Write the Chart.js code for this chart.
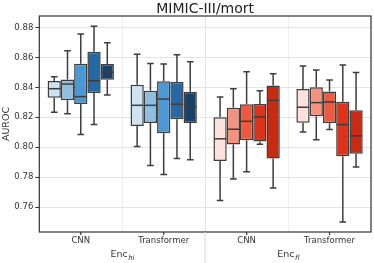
<!DOCTYPE html>
<html>
<head>
<meta charset="utf-8">
<script src="https://cdn.jsdelivr.net/npm/chart.js@4"></script>
<style>
  html, body { margin: 0; padding: 0; background: #fff; }
  #wrap { width: 374px; height: 263px; }
</style>
</head>
<body>
<div id="wrap"><canvas id="boxChart"></canvas></div>
<script>
// categories along x, and which encoder group each belongs to
const categories = ['CNN', 'Transformer', 'CNN', 'Transformer'];
const groupOf = [0, 0, 1, 1];
const groupNames = ['hi', 'fl'];
const seriesNames = ['run 1', 'run 2', 'run 3', 'run 4', 'run 5'];

// box stats, one row per series, one column per category
const whiskerLow = [
    [0.8233, 0.8004, 0.7644, 0.8102],
    [0.8224, 0.7878, 0.7787, 0.8049],
    [0.8084, 0.7818, 0.7836, 0.8118],
    [0.8151, 0.7924, 0.8020, 0.7500],
    [0.8349, 0.7916, 0.7727, 0.7867]
];
const q1 = [
    [0.8331, 0.8142, 0.7907, 0.8164],
    [0.8313, 0.8162, 0.8018, 0.8207],
    [0.8289, 0.8093, 0.8047, 0.8160],
    [0.8362, 0.8187, 0.8038, 0.7940],
    [0.8451, 0.8162, 0.7924, 0.7956]
];
const medians = [
    [0.8391, 0.8280, 0.8056, 0.8267],
    [0.8422, 0.8280, 0.8120, 0.8298],
    [0.8338, 0.8322, 0.8173, 0.8302],
    [0.8444, 0.8287, 0.8202, 0.8151],
    [0.8502, 0.8269, 0.8313, 0.8076]
];
const q3 = [
    [0.8442, 0.8418, 0.8200, 0.8389],
    [0.8453, 0.8378, 0.8264, 0.8400],
    [0.8558, 0.8440, 0.8287, 0.8373],
    [0.8638, 0.8436, 0.8289, 0.8304],
    [0.8556, 0.8371, 0.8413, 0.8247]
];
const whiskerHigh = [
    [0.8471, 0.8622, 0.8336, 0.8542],
    [0.8644, 0.8560, 0.8391, 0.8516],
    [0.8756, 0.8556, 0.8504, 0.8449],
    [0.8809, 0.8618, 0.8378, 0.8549],
    [0.8698, 0.8571, 0.8491, 0.8500]
];

const yTicks = [0.76, 0.78, 0.80, 0.82, 0.84, 0.86, 0.88];

const blues = ['#cfe2f3', '#8fbfe0', '#4a98d6', '#2468a5', '#17406a'];
const reds = ['#fde1dc', '#f4927e', '#ee5a40', '#e03218', '#c82a12'];

const FONT = '"DejaVu Sans", sans-serif';
const LINE = '#3d3d3d';

// whiskers, caps and medians on top of the bars
const boxExtras = {
    id: 'boxExtras',
    afterDatasetsDraw(chart) {
        const ctx = chart.ctx;
        const y = chart.scales.y;
        ctx.save();
        ctx.strokeStyle = LINE;
        ctx.lineWidth = 1.5;
        seriesNames.forEach((name, i) => {
            const meta = chart.getDatasetMeta(i);
            meta.data.forEach((bar, j) => {
                const x = bar.x;
                const half = bar.width / 2;
                const cap = bar.width / 4;
                const yLo = y.getPixelForValue(whiskerLow[i][j]);
                const yHi = y.getPixelForValue(whiskerHigh[i][j]);
                const yQ1 = y.getPixelForValue(q1[i][j]);
                const yQ3 = y.getPixelForValue(q3[i][j]);
                const yMed = y.getPixelForValue(medians[i][j]);
                ctx.beginPath();
                ctx.moveTo(x, yQ3); ctx.lineTo(x, yHi);
                ctx.moveTo(x - cap, yHi); ctx.lineTo(x + cap, yHi);
                ctx.moveTo(x, yQ1); ctx.lineTo(x, yLo);
                ctx.moveTo(x - cap, yLo); ctx.lineTo(x + cap, yLo);
                ctx.stroke();
                ctx.beginPath();
                ctx.moveTo(x - half + 0.5, yMed); ctx.lineTo(x + half - 0.5, yMed);
                ctx.stroke();
            });
        });
        ctx.restore();
    },
    afterDraw(chart) {
        const ctx = chart.ctx;
        const area = chart.chartArea;
        const x = chart.scales.x;
        ctx.save();
        // frame
        ctx.strokeStyle = '#333';
        ctx.lineWidth = 1.2;
        ctx.strokeRect(area.left, area.top, area.right - area.left, area.bottom - area.top);
        // x tick marks at category centres
        ctx.beginPath();
        categories.forEach((c, i) => {
            const px = x.getPixelForValue(i);
            ctx.moveTo(px, area.bottom);
            ctx.lineTo(px, area.bottom + 3);
        });
        ctx.stroke();
        // separator between encoder groups
        const mid = (x.getPixelForValue(1) + x.getPixelForValue(2)) / 2;
        ctx.strokeStyle = '#d6d6d6';
        ctx.lineWidth = 1;
        ctx.beginPath();
        ctx.moveTo(mid, area.bottom);
        ctx.lineTo(mid, chart.height);
        ctx.stroke();
        // group labels: Enc with italic subscript
        ctx.fillStyle = '#333';
        groupNames.forEach((g, gi) => {
            const idx = groupOf.map((v, k) => v === gi ? k : -1).filter(k => k >= 0);
            const cx = (x.getPixelForValue(idx[0]) + x.getPixelForValue(idx[idx.length - 1])) / 2;
            ctx.font = '9.5px ' + FONT;
            const w1 = ctx.measureText('Enc').width;
            ctx.font = 'italic 7px ' + FONT;
            const w2 = ctx.measureText(g).width;
            const start = cx - (w1 + w2) / 2;
            const base = 257;
            ctx.textAlign = 'left';
            ctx.textBaseline = 'alphabetic';
            ctx.font = '9.5px ' + FONT;
            ctx.fillText('Enc', start, base);
            ctx.font = 'italic 7px ' + FONT;
            ctx.fillText(g, start + w1 + 0.5, base + 2.5);
        });
        ctx.restore();
    }
};

const datasets = seriesNames.map((name, i) => ({
    label: name,
    data: categories.map((c, j) => [q1[i][j], q3[i][j]]),
    backgroundColor: categories.map((c, j) => groupOf[j] === 0 ? blues[i] : reds[i]),
    borderColor: LINE,
    borderWidth: 1.5,
    borderSkipped: false,
    categoryPercentage: 0.8,
    barPercentage: 1.0
}));

new Chart(document.getElementById('boxChart'), {
    type: 'bar',
    data: { labels: categories, datasets: datasets },
    plugins: [boxExtras],
    options: {
        responsive: true,
        maintainAspectRatio: false,
        animation: false,
        layout: { padding: { left: 0, right: 3, top: 0, bottom: 0 } },
        plugins: {
            legend: { display: false },
            tooltip: { enabled: false },
            title: {
                display: true,
                text: 'MIMIC-III/mort',
                fullSize: false,
                color: '#222',
                font: { family: FONT, size: 14, weight: 'normal', lineHeight: 1 },
                padding: { top: 2, bottom: 0 }
            }
        },
        scales: {
            x: {
                offset: true,
                afterFit: (scale) => { scale.height = 31; },
                grid: {
                    offset: true,
                    drawTicks: false,
                    color: (c) => c.index === 2 ? '#e2e2e2' : '#f0f0f0'
                },
                border: { display: false },
                ticks: {
                    padding: 4,
                    maxRotation: 0,
                    color: '#333',
                    font: { family: FONT, size: 8.5 }
                }
            },
            y: {
                min: 0.7433,
                max: 0.8877,
                afterFit: (scale) => { scale.width = 39.3; },
                afterBuildTicks: (scale) => {
                    scale.ticks = yTicks.map(v => ({ value: v }));
                },
                grid: {
                    color: '#e3e3e3',
                    tickColor: '#333',
                    tickLength: 4
                },
                border: { display: false },
                ticks: {
                    padding: 2,
                    color: '#333',
                    font: { family: FONT, size: 8.5 },
                    callback: (v) => v.toFixed(2)
                },
                title: {
                    display: true,
                    text: 'AUROC',
                    color: '#333',
                    font: { family: FONT, size: 9.5 },
                    padding: { top: 1, bottom: 0 }
                }
            }
        }
    }
});
</script>
</body>
</html>
